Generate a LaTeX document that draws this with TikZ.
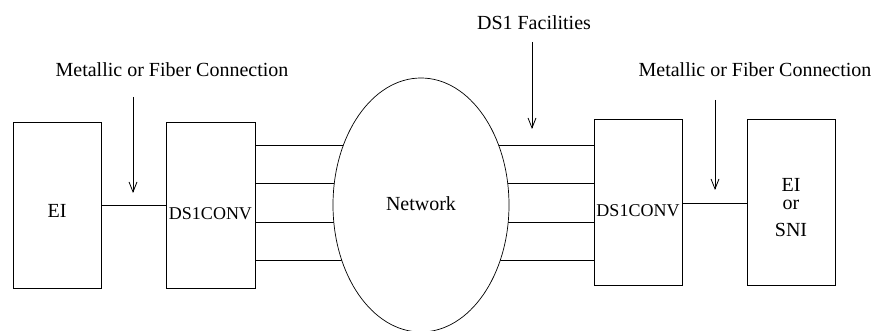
\documentclass[tikz,border=0pt]{standalone}
\usepackage{fontspec}
\setmainfont{Liberation Serif}
\usetikzlibrary{arrows.meta,shapes.geometric}
\begin{document}
\begin{tikzpicture}[x=1pt,y=-1pt,
  box/.style={draw,line width=0.8pt,minimum width=88pt,minimum height=166pt,inner sep=0pt},
  txt/.style={font=\fontsize{20}{22}\selectfont,inner sep=0pt},
  conv/.style={font=\fontsize{18}{20}\selectfont,inner sep=0pt},
  wire/.style={line width=0.8pt},
  pointer/.style={line width=0.8pt,-{Straight Barb[length=10pt,width=8pt,line width=0.8pt]}}]
\useasboundingbox (0,0) rectangle (876,331);
% boxes
\node[box] (ei) at (57,205.5) {};
\node[box,minimum width=89pt] (dsL) at (210.5,205.5) {};
\node[box] (dsR) at (638,202) {};
\node[box] (sni) at (791,202) {};
% box texts
\node[txt,anchor=base] (eiT) at (57,218) {EI};
\node[conv,anchor=base] (dsLT) at (210.5,220) {DS1CONV};
\node[conv,anchor=base] (dsRT) at (638,217) {DS1CONV};
\node[txt,anchor=base] (sniT1) at (791,191.7) {EI};
\node[txt,anchor=base] (sniT2) at (791,210) {or};
\node[txt,anchor=base] (sniT3) at (791,236.7) {SNI};
% connections
\draw[wire] (ei.east |- 0,205) -- (dsL.west |- 0,205);
\draw[wire] (dsR.east |- 0,203) -- (sni.west |- 0,203);
\foreach \yy in {145,183,222,260}
  \draw[wire] (dsL.east |- 0,\yy) -- (dsR.west |- 0,\yy);
% network
\node[draw,ellipse,fill=white,line width=0.7pt,minimum width=176pt,minimum height=254pt,inner sep=0pt,txt] (net) at (421,205) {};
\node[txt] (netT) at (421,204) {Network};
% labels and pointers
\node[txt] (lab1) at (172,70) {Metallic or Fiber Connection};
\node[txt] (lab2) at (534,23) {DS1 Facilities};
\node[txt] (lab3) at (755,70) {Metallic or Fiber Connection};
\coordinate (p1s) at (133,97);  \coordinate (p1e) at (133,193);
\coordinate (p2s) at (532,42);  \coordinate (p2e) at (532,129);
\coordinate (p3s) at (715,100); \coordinate (p3e) at (715,190);
\draw[pointer] (p1s) -- (p1e);
\draw[pointer] (p2s) -- (p2e);
\draw[pointer] (p3s) -- (p3e);
\end{tikzpicture}
\end{document}
